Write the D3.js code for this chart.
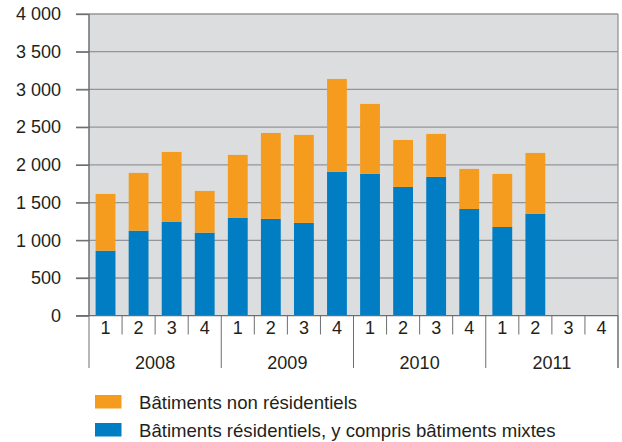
<!DOCTYPE html>
<html><head><meta charset="utf-8">
<script src="https://cdn.jsdelivr.net/npm/d3@7"></script>
<style>
html,body{margin:0;padding:0;background:#fff;}
text{font-family:"Liberation Sans",Arial,sans-serif;fill:#231f20;}
</style></head>
<body>
<svg id="chart" width="622" height="442"></svg>
<script>
const quarters = ["1","2","3","4","1","2","3","4","1","2","3","4","1","2","3","4"];
const years = ["2008","2009","2010","2011"];
const residential = [862,1127,1247,1101,1300,1283,1230,1906,1883,1707,1840,1415,1176,1349,null,null];
const nonResidential = [752,766,924,553,832,1140,1167,1233,925,623,570,531,704,809,null,null];
const yTicks = [0,500,1000,1500,2000,2500,3000,3500,4000];
const seriesNames = ["Bâtiments non résidentiels","Bâtiments résidentiels, y compris bâtiments mixtes"];
const colors = {nonRes:"#f59c1e", res:"#007dc3"};

(function(){
const svg = d3.select("#chart");
const pLeft = 89, pRight = 618, pTop = 14, pBottom = 315.7;
const fs = 18;
const idx = d3.range(quarters.length);
const x = d3.scaleBand().domain(idx).range([pLeft,pRight]).paddingInner(0.4).paddingOuter(0.2);
const y = d3.scaleLinear().domain([0,4000]).range([pBottom,pTop]);
const loc = d3.formatLocale({decimal:",",thousands:"\u00a0",grouping:[3],currency:["","€"]});
const fmt = loc.format(",");

svg.append("rect").attr("x",pLeft).attr("y",pTop).attr("width",pRight-pLeft).attr("height",pBottom-pTop).attr("fill","#dcdddf");

svg.append("g").selectAll("line").data(yTicks.filter(d=>d>0)).join("line")
  .attr("x1",76).attr("x2",pRight).attr("y1",d=>y(d)).attr("y2",d=>y(d))
  .attr("stroke","#939598").attr("stroke-width",1.3);
svg.append("line").attr("x1",pRight).attr("x2",pRight).attr("y1",pTop).attr("y2",368)
  .attr("stroke","#939598").attr("stroke-width",1.3);

const data = idx.map(i=>({i,res:residential[i],non:nonResidential[i]})).filter(d=>d.res!=null);
svg.append("g").selectAll("rect").data(data).join("rect")
  .attr("x",d=>x(d.i)).attr("width",x.bandwidth())
  .attr("y",d=>y(d.res)).attr("height",d=>y(0)-y(d.res)).attr("fill",colors.res);
svg.append("g").selectAll("rect").data(data).join("rect")
  .attr("x",d=>x(d.i)).attr("width",x.bandwidth())
  .attr("y",d=>y(d.res+d.non)).attr("height",d=>y(d.res)-y(d.res+d.non)).attr("fill",colors.nonRes);

const yAxis = d3.axisLeft(y).tickValues(yTicks).tickFormat(fmt).tickSize(13).tickPadding(15);
const gy = svg.append("g").attr("transform",`translate(${pLeft},0)`).call(yAxis);
gy.select(".domain").remove();
gy.selectAll(".tick line").attr("stroke","#6d6e71").attr("stroke-width",1.3);
gy.selectAll(".tick text").attr("font-size",fs).attr("font-family","'Liberation Sans',Arial,sans-serif").attr("fill","#231f20");
svg.append("line").attr("x1",pLeft).attr("x2",pLeft).attr("y1",pTop).attr("y2",pBottom).attr("stroke","#6d6e71").attr("stroke-width",1.5);
svg.append("line").attr("x1",76).attr("x2",pRight).attr("y1",pBottom).attr("y2",pBottom).attr("stroke","#6d6e71").attr("stroke-width",1.3);

const step = x.step();
const sepX = d3.range(quarters.length+1).map(i=>pLeft+i*step);
svg.append("g").selectAll("line").data(sepX).join("line")
  .attr("x1",d=>d).attr("x2",d=>d).attr("y1",pBottom).attr("y2",(d,i)=>i%4===0?368:334.5)
  .attr("stroke","#6d6e71").attr("stroke-width",1);
svg.append("g").selectAll("text").data(idx).join("text")
  .attr("x",i=>x(i)+x.bandwidth()/2).attr("y",334).attr("text-anchor","middle")
  .attr("font-size",fs).text(i=>quarters[i]);
svg.append("g").selectAll("text").data(years).join("text")
  .attr("x",(d,j)=>pLeft+(j*4+2)*step).attr("y",368.5).attr("text-anchor","middle")
  .attr("font-size",fs).text(d=>d);

const leg = svg.append("g");
const legItems = [{name:seriesNames[0],c:colors.nonRes,y:395},{name:seriesNames[1],c:colors.res,y:423}];
leg.selectAll("rect").data(legItems).join("rect")
  .attr("x",95).attr("y",d=>d.y).attr("width",26.5).attr("height",13.5).attr("fill",d=>d.c);
leg.selectAll("text").data(legItems).join("text")
  .attr("x",139).attr("y",d=>d.y+13.5).attr("font-size",18.6).text(d=>d.name);
})();
</script>
</body></html>
